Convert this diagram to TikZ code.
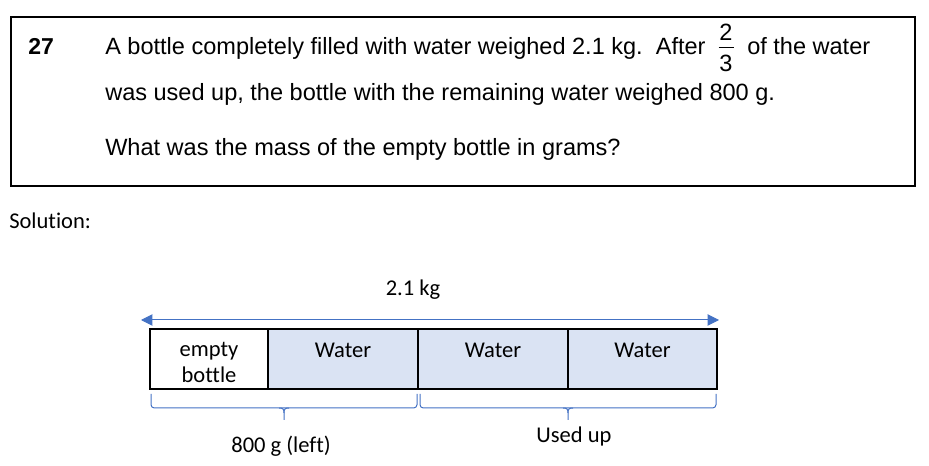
\documentclass[tikz,border=0pt]{standalone}
\usepackage{fontspec}
\setmainfont{Liberation Sans}
\newfontfamily\calfont[Ligatures=NoCommon]{Carlito}
\usetikzlibrary{arrows.meta}
\definecolor{wblue}{HTML}{4472C4}
\definecolor{wfill}{HTML}{DAE3F3}
\begin{document}
\begin{tikzpicture}[x=0.75pt,y=-0.75pt,
  qtext/.style={anchor=base west,inner sep=0pt,font=\fontsize{17.65}{20}\selectfont},
  ctext/.style={inner sep=0pt,font=\calfont\fontsize{16.9}{19}\selectfont},
  cell/.style={draw=black,line width=1.5pt,minimum height=45pt,inner sep=0pt},
  brace/.style={draw=wblue,line width=0.75pt,rounded corners=2.5pt},
  dimarrow/.style={draw=wblue,line width=0.75pt,{Triangle[length=8.5pt,width=8.5pt]}-{Triangle[length=8.5pt,width=8.5pt]}}]
\useasboundingbox (0,0) rectangle (929,466);
% question box
\node[draw=black,line width=1.5pt,minimum width=678pt,minimum height=126.75pt,inner sep=0pt] (qbox) at (463,101.5) {};
\node[qtext,font=\bfseries\fontsize{17.25}{20}\selectfont] (num) at (28,55) {27};
\node[qtext] (l1a) at (105,55) {A bottle completely filled with water weighed 2.1 kg.\ \ After};
\node[inner sep=0pt,anchor=base,font=\fontsize{17.65}{20}\selectfont] (fn) at (726,41) {2};
\node[inner sep=0pt,anchor=base,font=\fontsize{17.65}{20}\selectfont] (fd) at (726,72) {3};
\draw[line width=0.75pt] (718.5,48) -- (733.5,48);
\node[qtext] (l1b) at (747,55) {of the water};
\node[qtext] (l2) at (105,101) {was used up, the bottle with the remaining water weighed 800 g.};
\node[qtext] (l3) at (105,156) {What was the mass of the empty bottle in grams?};
% solution
\node[ctext,anchor=base west] (sol) at (9,229) {Solution:};
\node[ctext,anchor=base] (tot) at (413,296) {2.1 kg};
\coordinate (aL) at (141,320);
\coordinate (aR) at (719,320);
\draw[dimarrow] (aL) -- (aR);
% bar cells
\node[cell,minimum width=88.5pt] (c1) at (209,359) {};
\node[cell,fill=wfill,minimum width=112.5pt] (c2) at (343,359) {};
\node[cell,fill=wfill,minimum width=112.5pt] (c3) at (493,359) {};
\node[cell,fill=wfill,minimum width=111.75pt] (c4) at (642.5,359) {};
\node[ctext,anchor=base] (t1a) at (209,357) {empty};
\node[ctext,anchor=base] (t1b) at (209,383) {bottle};
\node[ctext,anchor=base] (t2) at (343,358) {Water};
\node[ctext,anchor=base] (t3) at (493,358) {Water};
\node[ctext,anchor=base] (t4) at (642.5,358) {Water};
% braces
\draw[brace] (151,394) -- (151,408) -- (417,408) -- (417,394);
\draw[draw=wblue,line width=0.75pt] (279,408) .. controls (283,408) and (284,409) .. (284,413) -- (284,420);
\draw[draw=wblue,line width=0.75pt] (289,408) .. controls (285,408) and (284,409) .. (284,413);
\draw[brace] (420,394) -- (420,408) -- (716,408) -- (716,394);
\draw[draw=wblue,line width=0.75pt] (563,408) .. controls (567,408) and (568,409) .. (568,413) -- (568,420);
\draw[draw=wblue,line width=0.75pt] (573,408) .. controls (569,408) and (568,409) .. (568,413);
\node[ctext,anchor=base] (left) at (281,453) {800 g (left)};
\node[ctext,anchor=base] (used) at (574,443) {Used up};
\end{tikzpicture}
\end{document}
